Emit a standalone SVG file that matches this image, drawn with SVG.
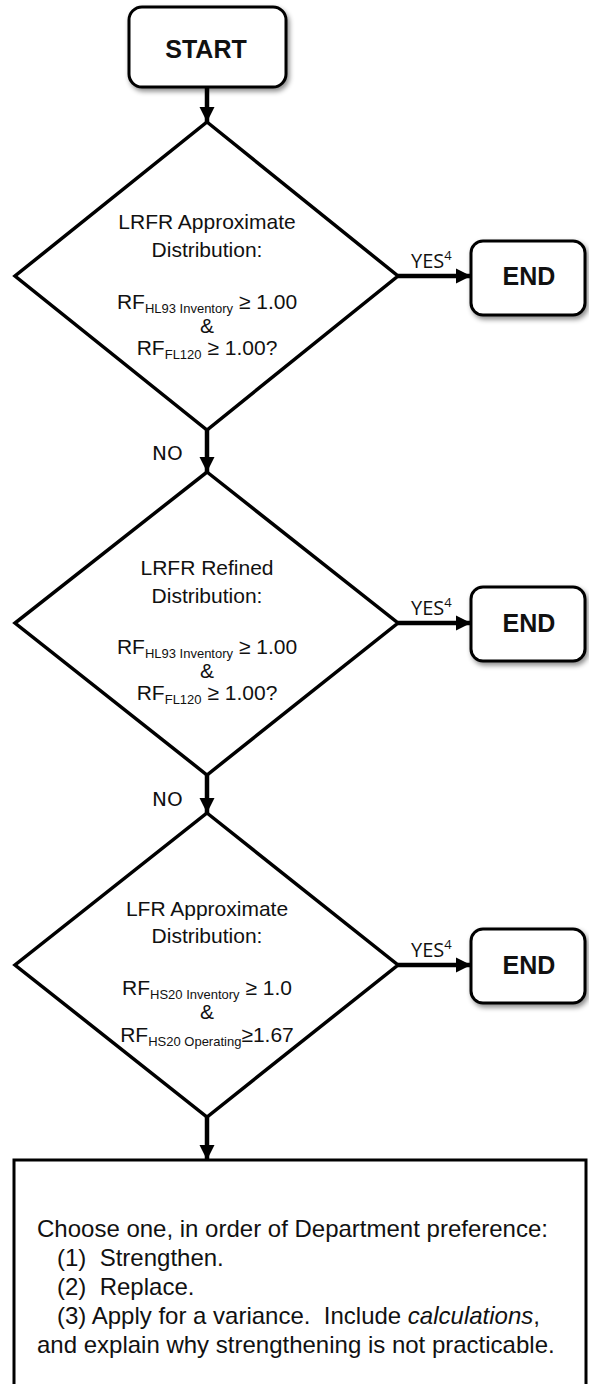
<svg xmlns="http://www.w3.org/2000/svg" width="589" height="1384" viewBox="0 0 589 1384">
<defs>
<filter id="shadow" x="-20%" y="-20%" width="150%" height="160%">
<feDropShadow dx="2" dy="3" stdDeviation="2.5" flood-color="#000" flood-opacity="0.45"/>
</filter>
<marker id="arrow" markerUnits="userSpaceOnUse" markerWidth="16" markerHeight="16" viewBox="0 0 16 16" refX="15" refY="8" orient="auto">
<path d="M0,0.5 L15,8 L0,15.5 Z" fill="#000"/>
</marker>
</defs>
<style>
.term{fill:#fff;stroke:#000;stroke-width:3}
.dec{fill:#fff;stroke:#000;stroke-width:3.5;stroke-linejoin:miter}
.box{fill:#fff;stroke:#000;stroke-width:3}
.tb{font-family:"Liberation Sans",Arial,sans-serif;font-weight:bold;font-size:25px;fill:#111;text-anchor:middle}
.t{font-family:"Liberation Sans",Arial,sans-serif;font-size:21px;fill:#111;text-anchor:middle}
.sub{font-size:13px}
.lab{font-family:"Open Sans","DejaVu Sans",sans-serif;font-size:20px;fill:#111}
.no{font-family:"DejaVu Sans","Liberation Sans",sans-serif;font-size:20px;fill:#111}
.bt{font-family:"Liberation Sans",Arial,sans-serif;font-size:24px;fill:#111;white-space:pre}
.conn{stroke:#000;stroke-width:4.5;fill:none}
</style>
<g id="connectors">
<line class="conn" x1="207" y1="88" x2="207" y2="122" marker-end="url(#arrow)"/>
<line class="conn" x1="398" y1="276" x2="471" y2="276" marker-end="url(#arrow)"/>
<line class="conn" x1="207" y1="430" x2="207" y2="472" marker-end="url(#arrow)"/>
<line class="conn" x1="398" y1="623" x2="471" y2="623" marker-end="url(#arrow)"/>
<line class="conn" x1="207" y1="775" x2="207" y2="813" marker-end="url(#arrow)"/>
<line class="conn" x1="398" y1="965" x2="471" y2="965" marker-end="url(#arrow)"/>
<line class="conn" x1="207" y1="1117" x2="207" y2="1160" marker-end="url(#arrow)"/>
<text class="lab" x="411" y="268">YES<tspan font-size="13" dy="-8">4</tspan></text>
<text class="lab" x="411" y="615">YES<tspan font-size="13" dy="-8">4</tspan></text>
<text class="lab" x="411" y="957">YES<tspan font-size="13" dy="-8">4</tspan></text>
<text class="no" x="152" y="460">NO</text>
<text class="no" x="152" y="806">NO</text>
</g>
<g id="start">
<rect class="term" x="129" y="7" width="157" height="80" rx="13" filter="url(#shadow)"/>
<text class="tb" x="206" y="58">START</text>
</g>
<g id="decision1">
<polygon class="dec" points="207,122 398,276 207,430 15,276"/>
<text class="t" x="207" y="229">LRFR Approximate</text>
<text class="t" x="207" y="257">Distribution:</text>
<text class="t" x="207" y="309">RF<tspan class="sub" dy="4">HL93 Inventory</tspan><tspan dy="-4"> ≥ 1.00</tspan></text>
<text class="t" x="207" y="333">&amp;</text>
<text class="t" x="207" y="355">RF<tspan class="sub" dy="4">FL120</tspan><tspan dy="-4"> ≥ 1.00?</tspan></text>
</g>
<g id="end1">
<rect class="term" x="471" y="241" width="114" height="74" rx="12" filter="url(#shadow)"/>
<text class="tb" x="529" y="285">END</text>
</g>
<g id="decision2">
<polygon class="dec" points="207,472 398,623 207,775 15,623"/>
<text class="t" x="207" y="575">LRFR Refined</text>
<text class="t" x="207" y="603">Distribution:</text>
<text class="t" x="207" y="654">RF<tspan class="sub" dy="4">HL93 Inventory</tspan><tspan dy="-4"> ≥ 1.00</tspan></text>
<text class="t" x="207" y="678">&amp;</text>
<text class="t" x="207" y="700">RF<tspan class="sub" dy="4">FL120</tspan><tspan dy="-4"> ≥ 1.00?</tspan></text>
</g>
<g id="end2">
<rect class="term" x="471" y="587" width="114" height="74" rx="12" filter="url(#shadow)"/>
<text class="tb" x="529" y="632">END</text>
</g>
<g id="decision3">
<polygon class="dec" points="207,813 398,965 207,1117 15,965"/>
<text class="t" x="207" y="916">LFR Approximate</text>
<text class="t" x="207" y="943">Distribution:</text>
<text class="t" x="207" y="995">RF<tspan class="sub" dy="4">HS20 Inventory</tspan><tspan dy="-4"> ≥ 1.0</tspan></text>
<text class="t" x="207" y="1019">&amp;</text>
<text class="t" x="207" y="1042">RF<tspan class="sub" dy="4">HS20 Operating</tspan><tspan dy="-4">≥1.67</tspan></text>
</g>
<g id="end3">
<rect class="term" x="471" y="929" width="114" height="74" rx="12" filter="url(#shadow)"/>
<text class="tb" x="529" y="974">END</text>
</g>
<g id="action">
<rect class="box" x="14" y="1160" width="572" height="240"/>
<text class="bt" x="37" y="1237">Choose one, in order of Department preference:</text>
<text class="bt" x="37" y="1266">   (1)  Strengthen.</text>
<text class="bt" x="37" y="1295">   (2)  Replace.</text>
<text class="bt" x="37" y="1324">   (3) Apply for a variance.  Include <tspan font-style="italic">calculations</tspan>,</text>
<text class="bt" x="37" y="1353">and explain why strengthening is not practicable.</text>
</g>
</svg>
